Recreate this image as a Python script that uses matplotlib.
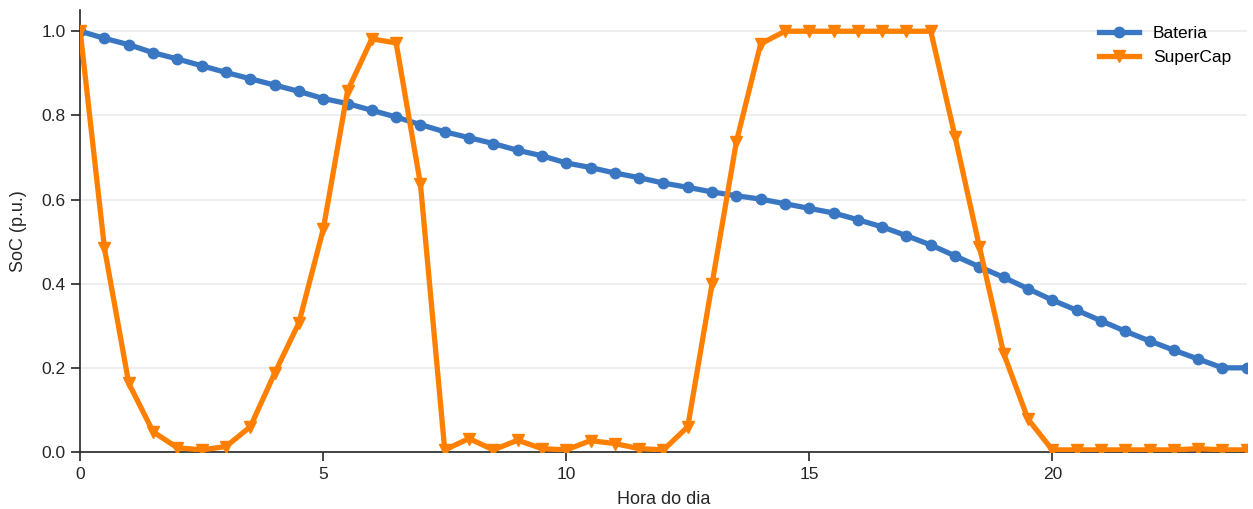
import matplotlib
matplotlib.use("Agg")
import matplotlib.pyplot as plt
import numpy as np

hours = [i * 0.5 for i in range(49)]
bateria = [1.000, 0.983, 0.968, 0.949, 0.934, 0.918, 0.902, 0.887, 0.872, 0.857,
           0.840, 0.828, 0.812, 0.796, 0.778, 0.761, 0.747, 0.733, 0.717, 0.704,
           0.687, 0.676, 0.663, 0.652, 0.639, 0.629, 0.618, 0.609, 0.601, 0.590,
           0.579, 0.568, 0.552, 0.535, 0.514, 0.492, 0.466, 0.440, 0.415, 0.388,
           0.361, 0.337, 0.312, 0.287, 0.264, 0.242, 0.221, 0.200, 0.200]
supercap = [1.000, 0.484, 0.163, 0.048, 0.010, 0.005, 0.013, 0.060, 0.187, 0.307,
            0.529, 0.858, 0.982, 0.972, 0.637, 0.005, 0.032, 0.005, 0.028, 0.008,
            0.005, 0.027, 0.020, 0.008, 0.005, 0.060, 0.400, 0.737, 0.970, 1.000,
            1.000, 1.000, 1.000, 1.000, 1.000, 1.000, 0.749, 0.488, 0.234, 0.078,
            0.005, 0.005, 0.005, 0.005, 0.005, 0.005, 0.008, 0.005, 0.005]

plt.rcParams['font.family'] = ['Liberation Sans', 'DejaVu Sans']

fig = plt.figure(figsize=(12.53, 5.09), dpi=100)
ax = fig.add_axes([0.064, 0.112, 0.931, 0.868])

ax.plot(hours, bateria, color='#3a77c2', lw=3.8, marker='o', ms=7.5, label='Bateria', zorder=3)
ax.plot(hours, supercap, color='#ff8000', lw=3.8, marker='v', ms=8.5, label='SuperCap', zorder=4)

ax.set_xlim(0, 24)
ax.set_ylim(0, 1.05)
ax.set_xticks([0, 5, 10, 15, 20])
ax.set_yticks([0.0, 0.2, 0.4, 0.6, 0.8, 1.0])
ax.set_yticklabels(['0.0', '0.2', '0.4', '0.6', '0.8', '1.0'])
ax.yaxis.grid(True, color='#ebebeb', lw=1.2)
ax.set_axisbelow(True)
for s in ['top', 'right']:
    ax.spines[s].set_visible(False)
for s in ['left', 'bottom']:
    ax.spines[s].set_color('#262626')
    ax.spines[s].set_linewidth(1.2)
ax.tick_params(axis='both', labelsize=12.5, colors='#262626', length=6.5, width=1.2, pad=4)
ax.set_xlabel('Hora do dia', fontsize=13, color='#262626', labelpad=7)
ax.set_ylabel('SoC (p.u.)', fontsize=13, color='#262626', labelpad=10)
ax.legend(loc='upper right', frameon=False, fontsize=12.5, handlelength=2.3,
          bbox_to_anchor=(1.0, 1.0))

fig.savefig('out.png', dpi=100)
